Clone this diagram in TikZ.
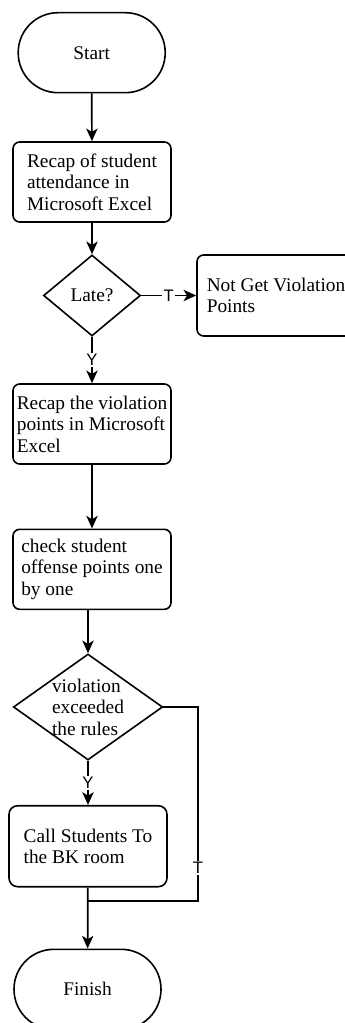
\documentclass[tikz,border=0pt]{standalone}
\usepackage{fontspec}
\setmainfont{Liberation Serif}
\newfontfamily\lblfont{Liberation Sans}
\usetikzlibrary{shapes.geometric,arrows.meta}
\begin{document}
\begin{tikzpicture}[x=0.75pt,y=-0.75pt,
  every node/.style={font=\fontsize{14.5}{16.2}\selectfont},
  line/.style={line width=1.3pt, draw=black},
  arr/.style={line, -{Stealth[length=9.5pt,width=8.5pt,inset=2.6pt]}},
  procbox/.style={draw, line width=1.2pt, rectangle, rounded corners=5pt,
    minimum width=118.5pt, minimum height=60pt, align=left, inner sep=0pt},
  term/.style={draw, line width=1.2pt, rectangle, rounded corners=29.9pt,
    minimum width=110.25pt, minimum height=60pt, inner sep=0pt},
  decision/.style={draw, line width=1.2pt, diamond, inner sep=0pt},
  edgelbl/.style={fill=white, inner sep=1pt, font=\lblfont\fontsize{12.5}{13.5}\selectfont}
]
\useasboundingbox (0,0) rectangle (345,1023);
\clip (0,0) rectangle (345,1023);

\node[term] (start) at (91.7,52.7) {Start};
\node[procbox] (b1) at (92,182) {Recap of student\\attendance in\\Microsoft Excel};
\node[decision, minimum width=72.75pt, minimum height=60.75pt,
      label={center:Late?}] (d1) at (92,295.5) {};
\node[procbox, minimum height=60.75pt] (ng) at (276,295.5) {Not Get Violation\\Points};
\node[procbox] (b2) at (92,424) {Recap the violation\\points in Microsoft\\Excel};
\node[procbox] (b3) at (92,569.3) {check student\\offense points one\\by one};
\node[decision, minimum width=112pt, minimum height=79.5pt,
      label={[align=left]center:violation\\exceeded\\the rules}] (d2) at (88,707) {};
\node[procbox, minimum height=60.75pt, rounded corners=6.5pt] (b4) at (88,846.2) {Call Students To\\the BK room};
\node[term] (fin) at (87.5,989.3) {Finish};
\coordinate (corner1) at (198,707);
\coordinate (corner2) at (198,901);
\coordinate (join) at (88,901);

\draw[arr] (start) -- (b1);
\draw[arr] (b1) -- (d1);
\draw[arr] (d1) -- node[edgelbl]{T} (ng);
\draw[arr] (d1) -- node[edgelbl, pos=0.5]{Y} (b2);
\draw[arr] (b2) -- (b3);
\draw[arr] (b3.south -| d2.north) -- (d2.north);
\draw[arr] (d2) -- node[edgelbl]{Y} (b4);
\draw[line] (d2.east) -- (corner1) -- node[edgelbl, pos=0.83]{T} (corner2) -- (join);
\draw[arr] (b4) -- (fin);
\end{tikzpicture}
\end{document}
